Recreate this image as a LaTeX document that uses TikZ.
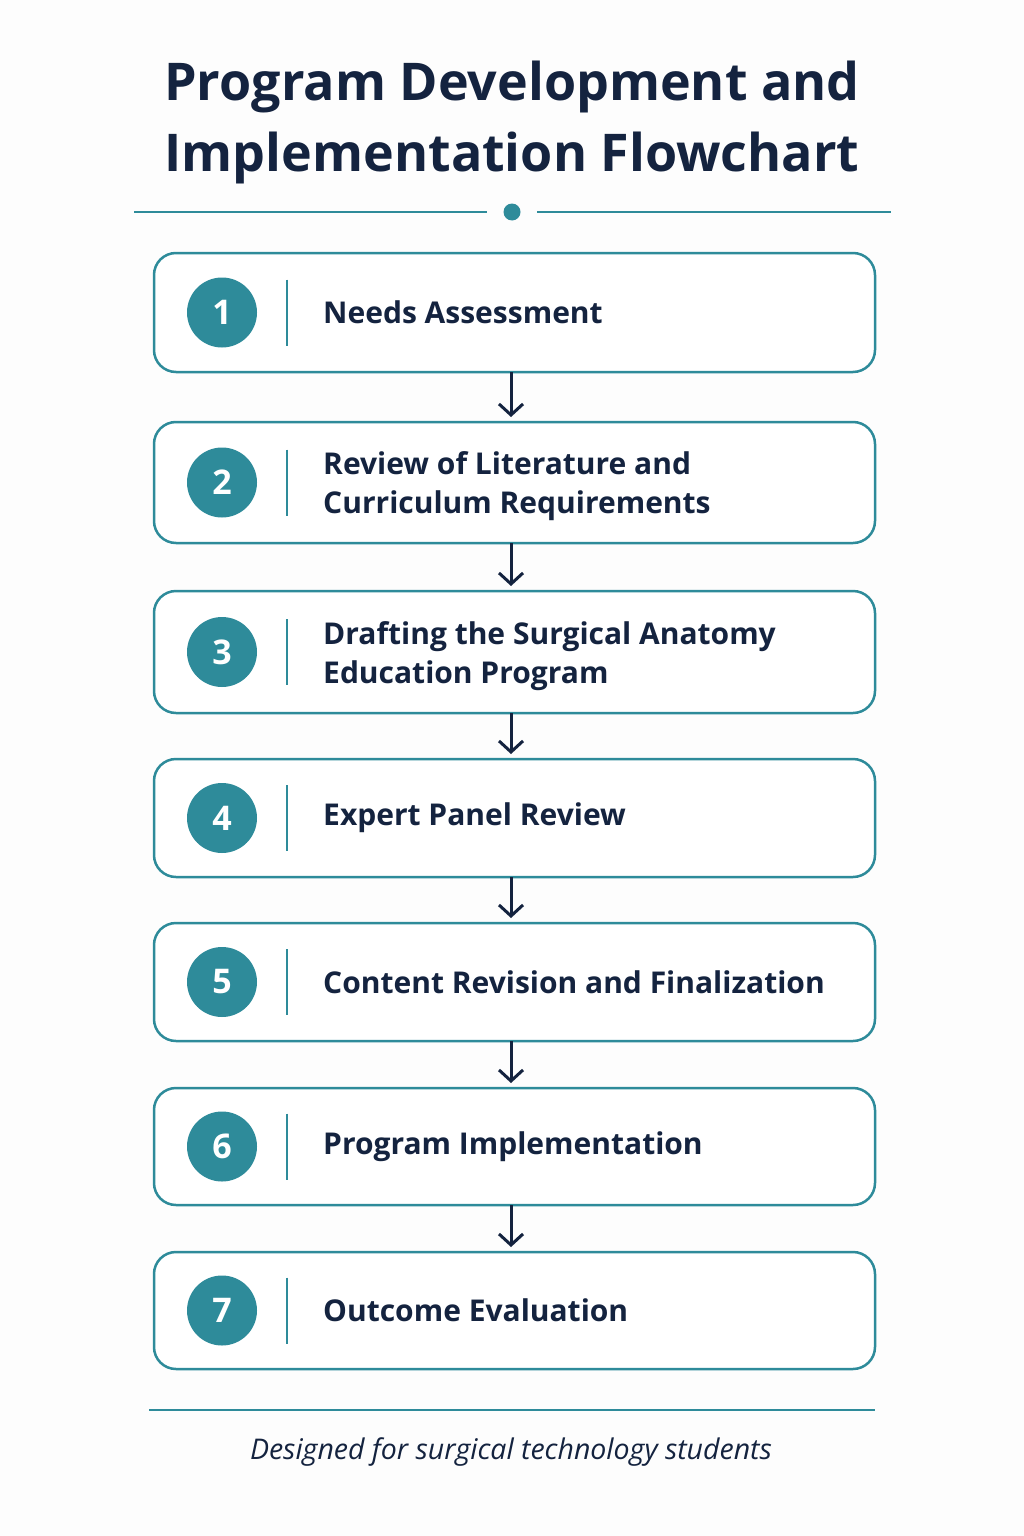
\documentclass[tikz,border=0pt]{standalone}
\usepackage{fontspec}
\setmainfont{Open Sans}
\usetikzlibrary{arrows.meta}
\definecolor{teal1}{HTML}{2E8B9A}
\definecolor{navy}{HTML}{14233F}
\definecolor{bg}{HTML}{FDFDFD}
\tikzset{
  stepbox/.style={draw=teal1, line width=2.5pt, rounded corners=22pt, fill=white},
  numcirc/.style={circle, fill=teal1, minimum size=70pt, inner sep=0pt, text=white, font=\fontsize{34}{34}\selectfont\bfseries},
  sepline/.style={draw=teal1, line width=1.5pt},
  steptext/.style={anchor=west, align=left, text=navy, inner sep=0pt, font=\fontsize{30}{39}\selectfont\bfseries},
  flowarrow/.style={draw=navy, line width=3pt, shorten >=5pt, -{Straight Barb[length=11pt,width=24pt,line width=3pt]}},
  rule/.style={draw=teal1, line width=2pt}
}
\begin{document}
\begin{tikzpicture}[x=1pt,y=-1pt]
\fill[bg] (0,0) rectangle (1024,1536);
\useasboundingbox (0,0) rectangle (1024,1536);
% title
\node[text=navy, align=center, font=\fontsize{52}{71}\selectfont\bfseries] (title) at (512,122) {Program Development and\\Implementation Flowchart};
% divider
\coordinate (dl1) at (134,212);
\coordinate (dl2) at (487,212);
\coordinate (dr1) at (537,212);
\coordinate (dr2) at (891,212);
\draw[rule] (dl1) -- (dl2);
\draw[rule] (dr1) -- (dr2);
\node[circle, fill=teal1, minimum size=17pt, inner sep=0pt] (dot) at (512,212) {};
% boxes
\foreach \i/\top/\bot/\dy/\txt in {
 1/253/372/0/{Needs Assessment},
 2/422/543/4/{Review of Literature and\\Curriculum Requirements},
 3/591/713/4/{Drafting the Surgical Anatomy\\Education Program},
 4/759/877/0/{Expert Panel Review},
 5/923/1041/0/{Content Revision and Finalization},
 6/1088/1205/0/{Program Implementation},
 7/1252/1369/0/{Outcome Evaluation}} {
  \pgfmathsetmacro{\mid}{(\top+\bot)/2}
  \draw[stepbox] (154,\top) rectangle (875,\bot);
  \coordinate (b\i top) at (511,\top);
  \coordinate (b\i bot) at (511,\bot);
  \node[numcirc] (c\i) at (222,\mid) {\i};
  \coordinate (s\i a) at (287,\mid-33);
  \coordinate (s\i b) at (287,\mid+33);
  \draw[sepline] (s\i a) -- (s\i b);
  \node[steptext] (t\i) at (323,\mid+\dy) {\txt};
}
% arrows
\foreach \a/\b in {1/2,2/3,3/4,4/5,5/6,6/7} {
  \draw[flowarrow] (b\a bot) -- (b\b top);
}
% bottom rule
\coordinate (bl1) at (149,1410);
\coordinate (bl2) at (875,1410);
\draw[rule] (bl1) -- (bl2);
\node[text=navy, font=\fontsize{28.5}{32}\selectfont\itshape] (foot) at (511,1452) {Designed for surgical technology students};
\end{tikzpicture}
\end{document}
